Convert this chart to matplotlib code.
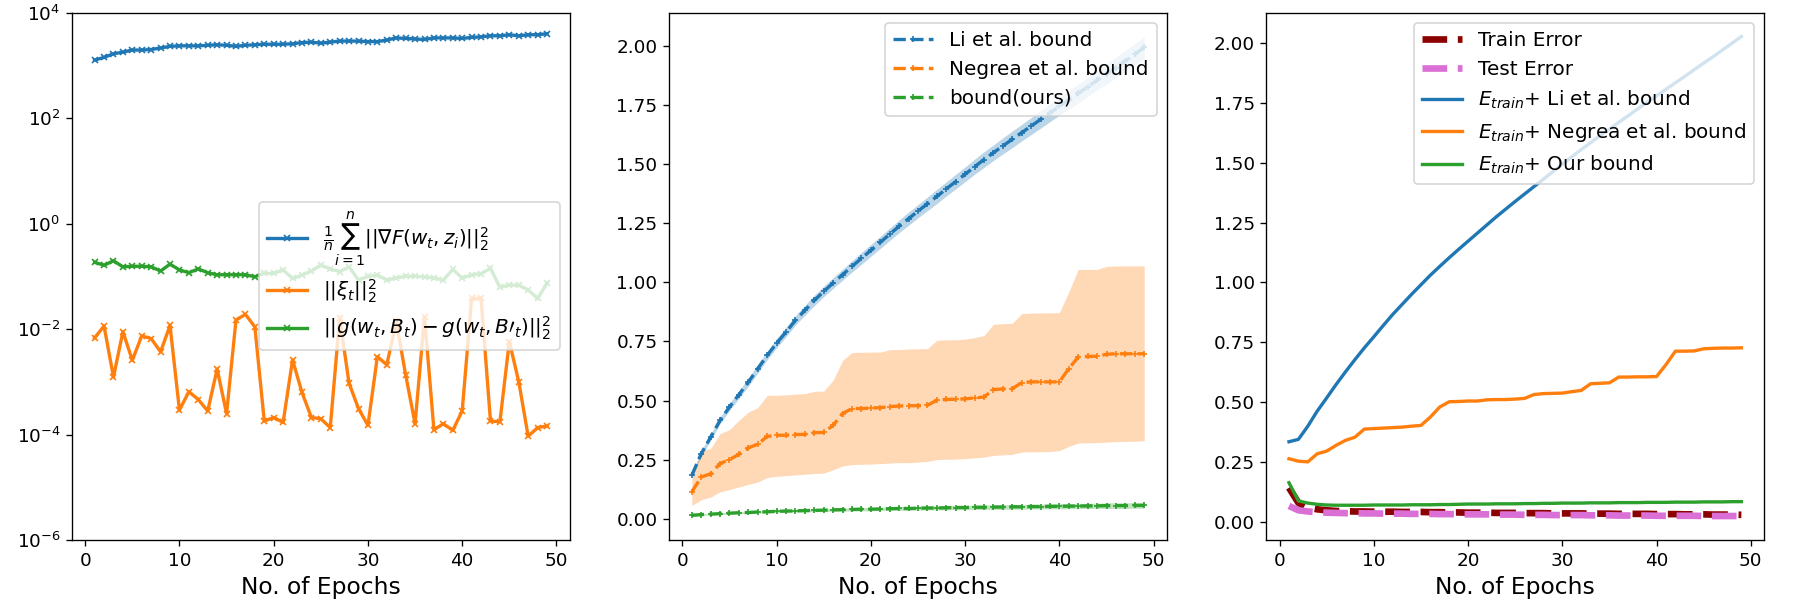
import matplotlib
matplotlib.use("Agg")
import matplotlib.pyplot as plt
from matplotlib.ticker import LogLocator, NullLocator

epochs = list(range(1, 50))

# left panel: gradient norm, noise norm, batch-difference norm
grad_norm = [1259, 1413, 1660, 1778, 1950, 1950, 1995, 2138, 2291, 2344,
             2344, 2344, 2399, 2455, 2399, 2291, 2399, 2455, 2512, 2512,
             2512, 2570, 2692, 2754, 2630, 2754, 2884, 2884, 2884, 2818,
             2818, 3020, 3311, 3236, 3162, 3090, 3311, 3311, 3311, 3236,
             3388, 3467, 3631, 3631, 3802, 3631, 3802, 3802, 3981]
xi_norm = [6.8e-3, 1.14e-2, 1.23e-3, 8.9e-3, 2.57e-3, 7.4e-3, 6.6e-3, 3.7e-3, 1.17e-2, 2.9e-4,
           6.5e-4, 4.6e-4, 2.8e-4, 1.74e-3, 2.5e-4, 1.48e-2, 1.9e-2, 1.1e-2, 1.8e-4, 2.1e-4,
           1.7e-4, 2.6e-3, 6.3e-4, 2.1e-4, 2.0e-4, 1.35e-4, 1.6e-2, 9.3e-4, 3.1e-4, 1.5e-4,
           3.0e-3, 2.1e-3, 1.4e-2, 1.35e-3, 1.6e-4, 1.7e-2, 1.23e-4, 1.6e-4, 1.2e-4, 2.8e-4,
           3.8e-2, 3.8e-2, 1.8e-4, 1.74e-4, 5.8e-3, 1.0e-3, 9.3e-5, 1.35e-4, 1.45e-4]
g_diff = [0.184, 0.162, 0.197, 0.151, 0.155, 0.155, 0.151, 0.126, 0.170, 0.132,
          0.117, 0.138, 0.117, 0.107, 0.107, 0.107, 0.107, 0.098, 0.114, 0.114,
          0.132, 0.091, 0.105, 0.126, 0.162, 0.138, 0.123, 0.151, 0.085, 0.100,
          0.105, 0.085, 0.093, 0.100, 0.100, 0.098, 0.093, 0.085, 0.135, 0.093,
          0.107, 0.112, 0.141, 0.062, 0.068, 0.068, 0.055, 0.038, 0.074]

# middle panel: bounds with spread
li_mean = [0.183, 0.275, 0.345, 0.416, 0.473, 0.525, 0.578, 0.635, 0.691, 0.743,
           0.790, 0.840, 0.882, 0.924, 0.962, 0.998, 1.033, 1.068, 1.102, 1.136,
           1.170, 1.204, 1.238, 1.270, 1.302, 1.333, 1.364, 1.396, 1.427, 1.458,
           1.490, 1.520, 1.549, 1.578, 1.606, 1.634, 1.662, 1.690, 1.718, 1.746,
           1.773, 1.800, 1.828, 1.856, 1.883, 1.910, 1.938, 1.966, 1.995]
li_spread = [0.010, 0.012, 0.013, 0.014, 0.015, 0.016, 0.017, 0.018, 0.018, 0.019,
             0.020, 0.020, 0.021, 0.022, 0.022, 0.023, 0.023, 0.024, 0.025, 0.025,
             0.026, 0.026, 0.027, 0.028, 0.028, 0.029, 0.030, 0.030, 0.031, 0.031,
             0.032, 0.033, 0.033, 0.034, 0.035, 0.035, 0.036, 0.037, 0.037, 0.038,
             0.039, 0.040, 0.040, 0.041, 0.042, 0.043, 0.044, 0.045, 0.046]
negrea_mean = [0.113, 0.176, 0.190, 0.233, 0.250, 0.272, 0.300, 0.315, 0.348, 0.353,
               0.353, 0.356, 0.357, 0.364, 0.365, 0.395, 0.445, 0.466, 0.466, 0.468,
               0.470, 0.474, 0.477, 0.478, 0.478, 0.480, 0.501, 0.505, 0.505, 0.507,
               0.511, 0.515, 0.546, 0.549, 0.550, 0.576, 0.579, 0.579, 0.579, 0.579,
               0.635, 0.684, 0.687, 0.687, 0.696, 0.698, 0.698, 0.698, 0.698]
negrea_lo = [0.056, 0.080, 0.091, 0.113, 0.123, 0.134, 0.145, 0.155, 0.174, 0.179,
             0.182, 0.185, 0.188, 0.191, 0.193, 0.207, 0.223, 0.229, 0.230, 0.231,
             0.233, 0.235, 0.237, 0.237, 0.239, 0.242, 0.250, 0.251, 0.252, 0.254,
             0.257, 0.260, 0.268, 0.270, 0.272, 0.282, 0.283, 0.283, 0.284, 0.288,
             0.306, 0.320, 0.321, 0.322, 0.324, 0.326, 0.327, 0.328, 0.330]
negrea_hi = [0.176, 0.289, 0.296, 0.360, 0.377, 0.416, 0.451, 0.470, 0.522, 0.522,
             0.524, 0.527, 0.529, 0.539, 0.540, 0.586, 0.670, 0.703, 0.704, 0.705,
             0.705, 0.715, 0.716, 0.718, 0.719, 0.720, 0.755, 0.757, 0.757, 0.760,
             0.766, 0.775, 0.823, 0.825, 0.827, 0.868, 0.870, 0.871, 0.871, 0.872,
             0.960, 1.055, 1.055, 1.055, 1.068, 1.070, 1.070, 1.070, 1.070]
ours_mean = [0.014, 0.017, 0.019, 0.021, 0.023, 0.025, 0.026, 0.028, 0.029, 0.031,
             0.032, 0.033, 0.034, 0.035, 0.036, 0.037, 0.038, 0.039, 0.040, 0.040,
             0.041, 0.042, 0.043, 0.043, 0.044, 0.045, 0.045, 0.046, 0.047, 0.047,
             0.048, 0.048, 0.049, 0.049, 0.050, 0.050, 0.051, 0.051, 0.052, 0.052,
             0.053, 0.053, 0.054, 0.054, 0.055, 0.055, 0.055, 0.056, 0.056]
ours_spread = [0.003, 0.003, 0.003, 0.004, 0.004, 0.004, 0.004, 0.005, 0.005, 0.005,
               0.005, 0.005, 0.006, 0.006, 0.006, 0.006, 0.006, 0.007, 0.007, 0.007,
               0.007, 0.007, 0.008, 0.008, 0.008, 0.008, 0.008, 0.009, 0.009, 0.009,
               0.009, 0.009, 0.010, 0.010, 0.010, 0.010, 0.010, 0.010, 0.011, 0.011,
               0.011, 0.011, 0.011, 0.011, 0.012, 0.012, 0.012, 0.012, 0.012]

# right panel: errors and train error + bounds
train_err = [0.143, 0.080, 0.060, 0.053, 0.049, 0.046, 0.045, 0.044, 0.044, 0.043,
             0.043, 0.043, 0.042, 0.042, 0.042, 0.041, 0.041, 0.040, 0.040, 0.039,
             0.039, 0.039, 0.038, 0.038, 0.038, 0.037, 0.037, 0.037, 0.036, 0.036,
             0.036, 0.036, 0.035, 0.035, 0.035, 0.034, 0.034, 0.034, 0.034, 0.033,
             0.033, 0.033, 0.032, 0.032, 0.032, 0.031, 0.031, 0.031, 0.030]
test_err = [0.067, 0.049, 0.044, 0.041, 0.039, 0.038, 0.037, 0.037, 0.036, 0.036,
            0.035, 0.035, 0.035, 0.034, 0.034, 0.034, 0.033, 0.033, 0.033, 0.032,
            0.032, 0.032, 0.031, 0.031, 0.031, 0.030, 0.030, 0.030, 0.029, 0.029,
            0.029, 0.029, 0.028, 0.028, 0.028, 0.027, 0.027, 0.027, 0.027, 0.026,
            0.026, 0.026, 0.026, 0.026, 0.025, 0.025, 0.025, 0.025, 0.025]
li_total = [0.335, 0.345, 0.400, 0.463, 0.518, 0.574, 0.627, 0.678, 0.727, 0.773,
            0.820, 0.866, 0.908, 0.950, 0.990, 1.030, 1.067, 1.103, 1.138, 1.172,
            1.206, 1.240, 1.274, 1.306, 1.338, 1.369, 1.400, 1.431, 1.462, 1.493,
            1.524, 1.554, 1.583, 1.612, 1.640, 1.668, 1.696, 1.724, 1.752, 1.779,
            1.806, 1.833, 1.860, 1.888, 1.915, 1.942, 1.970, 1.998, 2.026]
negrea_total = [0.264, 0.254, 0.251, 0.285, 0.296, 0.320, 0.341, 0.354, 0.388, 0.390,
                0.392, 0.394, 0.396, 0.400, 0.403, 0.438, 0.480, 0.502, 0.503, 0.505,
                0.505, 0.510, 0.511, 0.511, 0.513, 0.516, 0.532, 0.536, 0.537, 0.538,
                0.544, 0.549, 0.577, 0.579, 0.581, 0.605, 0.605, 0.606, 0.606, 0.607,
                0.657, 0.713, 0.713, 0.714, 0.723, 0.725, 0.726, 0.726, 0.727]
ours_total = [0.164, 0.088, 0.079, 0.074, 0.071, 0.070, 0.070, 0.070, 0.070, 0.071,
              0.071, 0.071, 0.071, 0.072, 0.072, 0.072, 0.073, 0.073, 0.074, 0.075,
              0.075, 0.075, 0.076, 0.076, 0.076, 0.077, 0.077, 0.078, 0.078, 0.079,
              0.079, 0.079, 0.080, 0.080, 0.080, 0.081, 0.081, 0.081, 0.082, 0.082,
              0.082, 0.083, 0.083, 0.083, 0.084, 0.084, 0.084, 0.085, 0.085]

li_lo = [m - s for m, s in zip(li_mean, li_spread)]
li_hi = [m + s for m, s in zip(li_mean, li_spread)]
ours_lo = [m - s for m, s in zip(ours_mean, ours_spread)]
ours_hi = [m + s for m, s in zip(ours_mean, ours_spread)]

fig, axs = plt.subplots(1, 3, figsize=(15, 5), dpi=120)

# LEFT: norms on log scale
ax = axs[0]
ax.plot(epochs, grad_norm, color="tab:blue", marker="x", markersize=4, lw=2,
        label=r"$\frac{1}{n}\sum_{i=1}^{n}||\nabla F(w_t, z_i)||_2^2$")
ax.plot(epochs, xi_norm, color="tab:orange", marker="x", markersize=4, lw=2,
        label=r"$||\xi_t||_2^2$")
ax.plot(epochs, g_diff, color="tab:green", marker="x", markersize=4, lw=2,
        label=r"$||g(w_t, B_t) - g(w_t, B\prime_t)||_2^2$")
ax.set_yscale("log")
ax.set_ylim(1e-6, 1e4)
ax.yaxis.set_major_locator(LogLocator(base=100))
ax.yaxis.set_minor_locator(NullLocator())
ax.legend(loc="center right", fontsize=12)

# MIDDLE: bounds
ax = axs[1]
ax.plot(epochs, li_mean, "--", color="tab:blue", marker="+", markersize=4, lw=2,
        label="Li et al. bound")
ax.fill_between(epochs, li_lo, li_hi, color="tab:blue", alpha=0.3, lw=0)
ax.plot(epochs, negrea_mean, "--", color="tab:orange", marker="+", markersize=4, lw=2,
        label="Negrea et al. bound")
ax.fill_between(epochs, negrea_lo, negrea_hi, color="tab:orange", alpha=0.3, lw=0)
ax.plot(epochs, ours_mean, "--", color="tab:green", marker="+", markersize=4, lw=2,
        label="bound(ours)")
ax.fill_between(epochs, ours_lo, ours_hi, color="tab:green", alpha=0.3, lw=0)
ax.legend(loc="upper right", fontsize=12)

# RIGHT: errors
ax = axs[2]
ax.plot(epochs, train_err, "--", color="darkred", lw=4, label="Train Error")
ax.plot(epochs, test_err, "--", color="orchid", lw=4, label="Test Error")
ax.plot(epochs, li_total, color="tab:blue", lw=2,
        label=r"$E_{train}$+ Li et al. bound")
ax.plot(epochs, negrea_total, color="tab:orange", lw=2,
        label=r"$E_{train}$+ Negrea et al. bound")
ax.plot(epochs, ours_total, color="tab:green", lw=2,
        label=r"$E_{train}$+ Our bound")
ax.legend(loc="upper right", fontsize=12)

for ax in axs:
    ax.set_xlabel("No. of Epochs", fontsize=14)
    ax.tick_params(axis="both", labelsize=11)
    ax.set_xticks([0, 10, 20, 30, 40, 50])

fig.subplots_adjust(left=0.04, right=0.98, top=0.979, bottom=0.1, wspace=0.2)
plt.savefig("out.png")
